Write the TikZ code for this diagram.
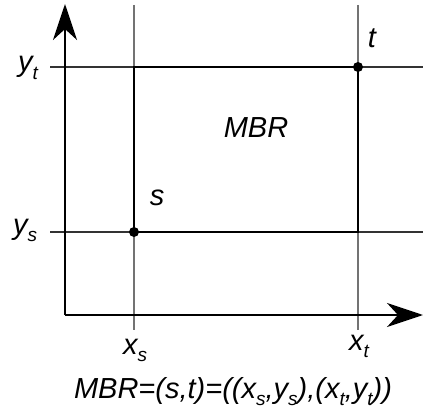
\documentclass[tikz,border=0pt]{standalone}
\usepackage{fontspec}
\setmainfont{Liberation Sans}
\usetikzlibrary{arrows.meta}
\newcommand{\sbs}[1]{\raisebox{-0.26em}{\fontsize{19}{21}\selectfont #1}}
\begin{document}
\begin{tikzpicture}[x=1pt,y=-1pt,
  axis/.style={line width=2.5pt,-{Stealth[length=36pt,width=24pt,inset=11pt]}},
  gridln/.style={line width=1.1pt,black!55},
  gridh/.style={line width=1.1pt,black!80},
  box/.style={line width=2.8pt},
  pt/.style={circle,fill=black,inner sep=0pt,minimum size=10pt},
  lbl/.style={font=\fontsize{29}{32}\selectfont\itshape,inner sep=0pt,anchor=base}]
\useasboundingbox (0,0) rectangle (423,414);
% grid lines
\coordinate (xs1) at (134,5);
\coordinate (xs2) at (134,330);
\coordinate (xt1) at (358,5);
\coordinate (xt2) at (358,330);
\coordinate (yt1) at (50,67);
\coordinate (yt2) at (423,67);
\coordinate (ys1) at (50,232);
\coordinate (ys2) at (423,232);
\draw[gridln] (xs1) -- (xs2);
\draw[gridln] (xt1) -- (xt2);
\draw[gridh] (yt1) -- (yt2);
\draw[gridh] (ys1) -- (ys2);
% axes
\coordinate (o) at (65,315);
\coordinate (ytop) at (65,4);
\coordinate (xright) at (423,315);
\draw[axis] (o) -- (ytop);
\draw[axis] (o) -- (xright);
% MBR
\node[pt] (s) at (134,232) {};
\node[pt] (t) at (358,67) {};
\draw[box] (s.center) rectangle (t.center);
% labels
\node[lbl] (slbl) at (157,206) {s};
\node[lbl] (tlbl) at (372,48) {t};
\node[lbl] (mbr) at (256,138) {MBR};
\node[lbl] (ytl) at (28,72) {y\sbs{t}};
\node[lbl] (ysl) at (25,234) {y\sbs{s}};
\node[lbl] (xsl) at (135,354) {x\sbs{s}};
\node[lbl] (xtl) at (359,350) {x\sbs{t}};
\node[lbl] (formula) at (233,398) {MBR=(s,t)=((x\sbs{s},y\sbs{s}),(x\sbs{t},y\sbs{t}))};
\end{tikzpicture}
\end{document}
